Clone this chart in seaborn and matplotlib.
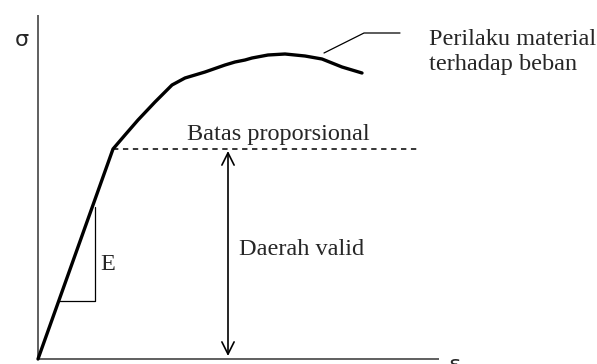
import matplotlib
matplotlib.use("Agg")
import matplotlib.pyplot as plt
import seaborn as sns
import pandas as pd

# Stress-strain curve (schematic units)
strain = [0, 75, 87, 100, 117, 134, 147, 167, 187, 197, 207, 214, 230, 247, 267, 284, 304, 324]
stress = [0, 210, 224, 239, 257, 274, 281, 287, 294, 297, 299, 301, 304, 305, 303, 300, 292, 286]

# proportional limit
prop_strain = 75
prop_stress = 210
dash_end = 382

# axis extents
x_axis_end = 401
y_axis_end = 344

# slope triangle
tri_x = [20.6, 57, 57]
tri_y = [58, 58, 152]

sns.set_style("white")
plt.rcParams['font.family'] = ['Liberation Serif', 'DejaVu Serif']

fig = plt.figure(figsize=(5.97, 3.64), dpi=100)
ax = fig.add_axes([0, 0, 1, 1])
ax.set_xlim(-38, 559)
ax.set_ylim(-5, 359)
ax.axis('off')

df = pd.DataFrame({"strain": strain, "stress": stress})

# axes
ax.plot([0, 0], [0, y_axis_end], color="#444444", lw=1.2, solid_capstyle='butt')
ax.plot([0, x_axis_end], [0, 0], color="#444444", lw=1.2, solid_capstyle='butt')

# curve
sns.lineplot(data=df, x="strain", y="stress", ax=ax, color="black", lw=2.4,
             sort=False, estimator=None)

# proportional limit dashed line
ax.plot([prop_strain, dash_end], [prop_stress, prop_stress], color="black",
        lw=1.1, ls=(0, (3.5, 3)))

# slope triangle
ax.plot(tri_x, tri_y, color="black", lw=0.9)

# double arrow for valid region
ax.annotate("", xy=(190, 3), xytext=(190, 208),
            arrowprops=dict(arrowstyle="<->", color="black", lw=1.2,
                            mutation_scale=22, shrinkA=0, shrinkB=0))

# leader line
ax.plot([286, 326, 362], [306, 326, 326], color="black", lw=0.9)

fs = 17.5
ax.text(149, 219, "Batas proporsional", fontsize=fs, ha="left", va="baseline")
ax.text(201, 104, "Daerah valid", fontsize=fs, ha="left", va="baseline")
ax.text(62, 89, "E", fontsize=fs, ha="left", va="baseline")
ax.text(391, 314, "Perilaku material", fontsize=fs, ha="left", va="baseline")
ax.text(391, 289, "terhadap beban", fontsize=fs, ha="left", va="baseline")
ax.text(-16, 319, "σ", fontsize=16, ha="center", va="center", family="DejaVu Sans")
ax.text(417, -6, "ε", fontsize=16, ha="center", va="center", family="DejaVu Sans")

fig.savefig("out.png", dpi=100)
